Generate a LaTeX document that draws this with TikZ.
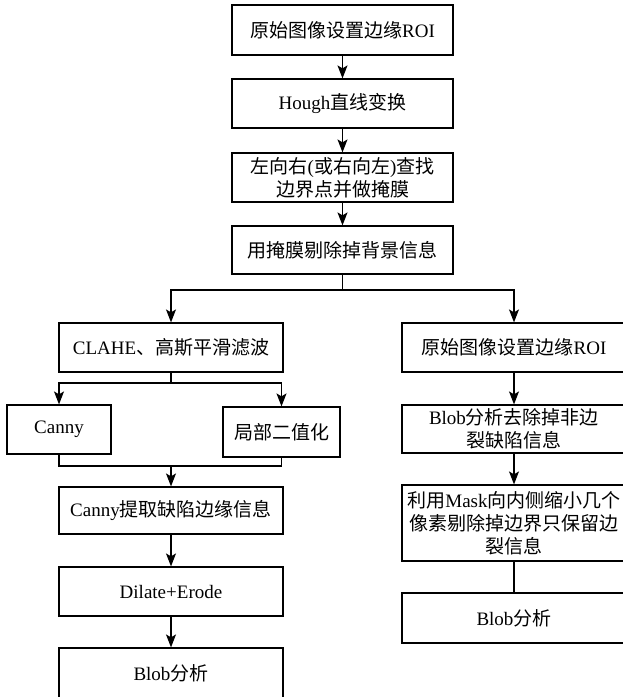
\documentclass[tikz,border=0pt]{standalone}
\usepackage{fontspec}
\setmainfont{Liberation Serif}
\newfontfamily\cj{Noto Sans CJK SC}
\usetikzlibrary{arrows.meta}
\tikzset{
  box/.style={draw=black, line width=1.2pt, rectangle, inner sep=0pt, align=center,
    font=\fontsize{19}{23}\selectfont},
  arr/.style={line width=1.2pt, -{Stealth[length=13pt,width=10pt,inset=3pt]}},
  ln/.style={line width=1.2pt}
}
\begin{document}
\begin{tikzpicture}[x=1pt,y=-1pt]
\useasboundingbox (0,0) rectangle (623,697);
\clip (0,0) rectangle (623,697);
\fill[white] (0,0) rectangle (623,697);
% centre column
\node[box, minimum width=221pt, minimum height=50pt] (b1) at (342.5,30) {{\cj 原始图像设置边缘}ROI};
\node[box, minimum width=221pt, minimum height=49pt] (b2) at (342.5,103.5) {Hough{\cj 直线变换}};
\node[box, minimum width=221pt, minimum height=49pt] (b3) at (342.5,177.5) {{\cj 左向右}({\cj 或右向左}){\cj 查找}\\{\cj 边界点并做掩膜}};
\node[box, minimum width=221pt, minimum height=48pt] (b4) at (342.5,250) {{\cj 用掩膜剔除掉背景信息}};
% left column
\node[box, minimum width=224pt, minimum height=49pt] (clahe) at (171,347.5) {CLAHE{\cj 、高斯平滑滤波}};
\node[box, minimum width=104pt, minimum height=49pt] (canny) at (59,429.5) {Canny};
\node[box, minimum width=117pt, minimum height=50pt] (local) at (281.5,432) {{\cj 局部二值化}};
\node[box, minimum width=224pt, minimum height=47pt] (ext) at (171,510.5) {Canny{\cj 提取缺陷边缘信息}};
\node[box, minimum width=224pt, minimum height=49pt] (dil) at (171,591.5) {Dilate+Erode};
\node[box, minimum width=224pt, minimum height=50pt] (blobl) at (171,673) {Blob{\cj 分析}};
% right column
\node[box, minimum width=224pt, minimum height=49pt] (rroi) at (514,347.5) {{\cj 原始图像设置边缘}ROI};
\node[box, minimum width=224pt, minimum height=48pt] (rblob) at (514,429) {Blob{\cj 分析去除掉非边}\\{\cj 裂缺陷信息}};
\node[box, minimum width=224pt, minimum height=76pt] (mask) at (514,523) {{\cj 利用}Mask{\cj 向内侧缩小几个}\\{\cj 像素剔除掉边界只保留边}\\{\cj 裂信息}};
\node[box, minimum width=224pt, minimum height=50pt] (rblob2) at (514,618) {Blob{\cj 分析}};
% connectors
\draw[arr] (b1) -- (b2);
\draw[arr] (b2) -- (b3);
\draw[arr] (b3) -- (b4);
\coordinate (sp) at (342.5,290);
\draw[ln] (b4.south) -- (sp);
\draw[arr] (sp) -| (clahe.north);
\draw[arr] (sp) -| (rroi.north);
\coordinate (sp2) at (171,383);
\draw[ln] (clahe.south) -- (sp2);
\draw[arr] (sp2) -| (canny.north);
\draw[arr] (sp2) -| (local.north);
\coordinate (mg) at (171,466);
\draw[ln] (canny.south) |- (mg);
\draw[ln] (local.south) |- (mg);
\draw[arr] (mg) -- (ext.north);
\draw[arr] (ext) -- (dil);
\draw[arr] (dil) -- (blobl);
\draw[arr] (rroi) -- (rblob);
\draw[arr] (rblob) -- (mask);
\draw[ln] (mask) -- (rblob2);
\end{tikzpicture}
\end{document}
